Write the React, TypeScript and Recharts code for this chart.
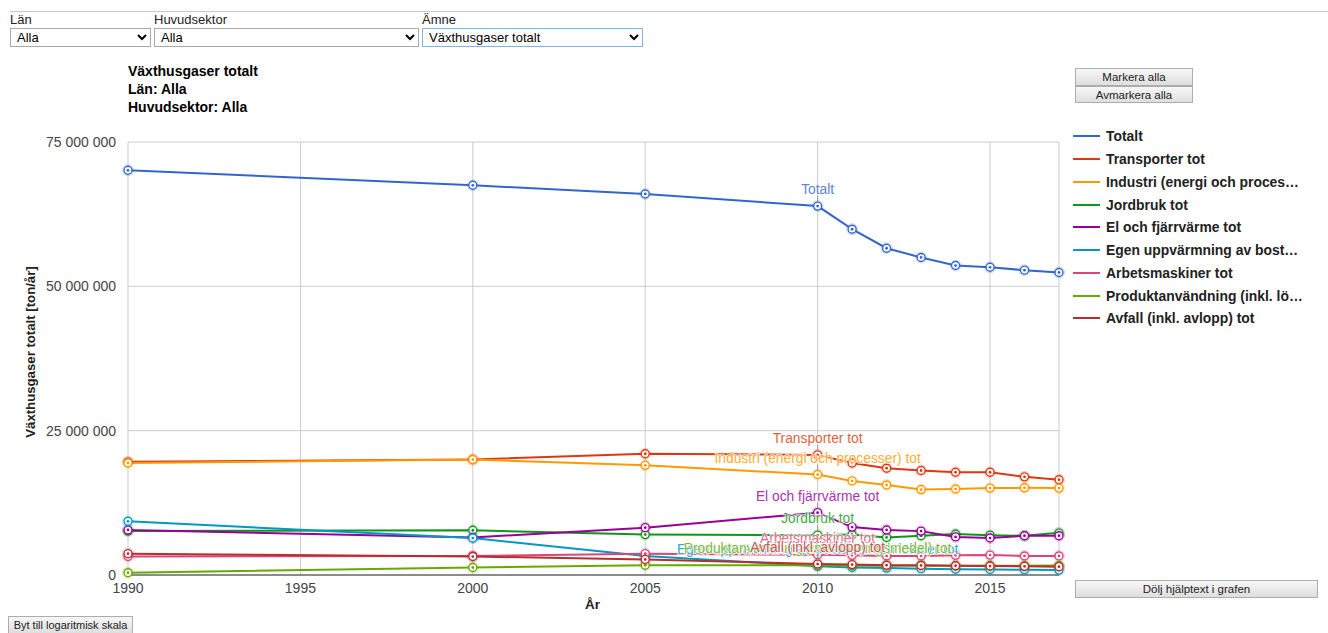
import React from 'react';
import { LineChart, Line, XAxis, YAxis, CartesianGrid } from 'recharts';

// År och värden (miljoner ton/år)
const years = [1990, 2000, 2005, 2010, 2011, 2012, 2013, 2014, 2015, 2016, 2017];
const totalt = [70.1, 67.5, 66.0, 63.9, 59.9, 56.6, 55.0, 53.6, 53.3, 52.8, 52.4];
const transporter = [19.6, 20.0, 21.0, 20.8, 19.4, 18.5, 18.1, 17.8, 17.8, 17.0, 16.5];
const industri = [19.4, 20.0, 19.0, 17.4, 16.3, 15.6, 14.8, 14.9, 15.05, 15.1, 15.05];
const jordbruk = [7.6, 7.75, 7.0, 6.9, 7.0, 6.5, 6.8, 7.1, 6.9, 6.8, 7.3];
const elFjarrvarme = [7.8, 6.5, 8.2, 10.8, 8.3, 7.8, 7.6, 6.6, 6.4, 6.8, 6.8];
const egenUppvarmning = [9.3, 6.4, 3.3, 1.5, 1.3, 1.2, 1.1, 1.0, 0.95, 0.9, 0.85];
const arbetsmaskiner = [3.2, 3.3, 3.7, 3.5, 3.4, 3.3, 3.3, 3.4, 3.45, 3.3, 3.3];
const produktanvandning = [0.4, 1.3, 1.7, 1.7, 1.6, 1.6, 1.7, 1.6, 1.6, 1.6, 1.65];
const avfall = [3.7, 3.2, 2.7, 1.9, 1.8, 1.7, 1.65, 1.6, 1.55, 1.5, 1.45];

const xTicks = [1990, 1995, 2000, 2005, 2010, 2015];
const yTicks = [0, 25, 50, 75];

const series = [
  { key: 'totalt', name: 'Totalt', legend: 'Totalt', values: totalt, color: '#3366cc', label: '#5b84d6' },
  { key: 'transporter', name: 'Transporter tot', legend: 'Transporter tot', values: transporter, color: '#dc3912', label: '#e4613e' },
  { key: 'industri', name: 'Industri (energi och processer) tot', legend: 'Industri (energi och proces…', values: industri, color: '#ff9900', label: '#ffad33' },
  { key: 'jordbruk', name: 'Jordbruk tot', legend: 'Jordbruk tot', values: jordbruk, color: '#109618', label: '#3fab46' },
  { key: 'el', name: 'El och fjärrvärme tot', legend: 'El och fjärrvärme tot', values: elFjarrvarme, color: '#990099', label: '#ad33ad' },
  { key: 'egen', name: 'Egen uppvärmning av bostäder och lokaler tot', legend: 'Egen uppvärmning av bost…', values: egenUppvarmning, color: '#0099c6', label: '#33add1' },
  { key: 'arbets', name: 'Arbetsmaskiner tot', legend: 'Arbetsmaskiner tot', values: arbetsmaskiner, color: '#dd4477', label: '#e46992' },
  { key: 'produkt', name: 'Produktanvändning (inkl. lösningsmedel) tot', legend: 'Produktanvändning (inkl. lö…', values: produktanvandning, color: '#66aa00', label: '#85bb33' },
  { key: 'avfall', name: 'Avfall (inkl. avlopp) tot', legend: 'Avfall (inkl. avlopp) tot', values: avfall, color: '#b82e2e', label: '#c65858' },
];

const data = years.map((year, i) => {
  const row: Record<string, number> = { year };
  series.forEach((s) => {
    row[s.key] = s.values[i];
  });
  return row;
});

const FONT = 'Arial, "Liberation Sans", sans-serif';
const LABEL_INDEX = years.indexOf(2010);

const fmt = (v: number) => String(Math.round(v * 1000000)).replace(/\B(?=(\d{3})+(?!\d))/g, ' ');

const makeDot = (color: string) => (props: any) => {
  const { cx, cy, index } = props;
  if (cx == null || cy == null) return <g key={index} />;
  return (
    <g key={index}>
      <circle cx={cx} cy={cy} r={5.5} fill="none" stroke={color} strokeOpacity={0.25} strokeWidth={1} />
      <circle cx={cx} cy={cy} r={4} fill="#fff" stroke={color} strokeWidth={1.4} />
      <circle cx={cx} cy={cy} r={1.4} fill={color} />
    </g>
  );
};

const makeLabel = (text: string, color: string) => (props: any) => {
  const { x, y, index } = props;
  if (index !== LABEL_INDEX) return <g key={index} />;
  return (
    <g key={index}>
      <line x1={x} x2={x} y1={y - 10} y2={y - 4} stroke="#999" strokeWidth={1} />
      <text
        x={x}
        y={y - 12}
        textAnchor="middle"
        fontFamily={FONT}
        fontSize={13.8}
        fill={color}
        stroke="#fff"
        strokeWidth={2}
        strokeOpacity={0.7}
        paintOrder="stroke"
      >
        {text}
      </text>
    </g>
  );
};

const btn: React.CSSProperties = {
  position: 'absolute',
  boxSizing: 'border-box',
  fontFamily: FONT,
  fontSize: 11.5,
  color: '#222',
  background: 'linear-gradient(#f7f7f7, #dedede)',
  border: '1px solid #adadad',
  borderRadius: 0,
  padding: 0,
  lineHeight: '14px',
  whiteSpace: 'nowrap',
  overflow: 'hidden',
};

const sel: React.CSSProperties = {
  position: 'absolute',
  top: 28,
  height: 19,
  boxSizing: 'border-box',
  fontFamily: FONT,
  fontSize: 13,
  border: '1px solid #a9a9a9',
  borderRadius: 0,
  background: '#fff',
  padding: '0 2px',
};

const lbl: React.CSSProperties = { position: 'absolute', top: 12, fontFamily: FONT, fontSize: 13, color: '#222' };

export default function App() {
  return (
    <div style={{ position: 'fixed', left: 0, top: 0, width: 1328, height: 633, background: '#fff', fontFamily: FONT, overflow: 'hidden' }}>
      <div style={{ position: 'absolute', left: 10, right: 0, top: 11, height: 1, background: '#c8c8c8' }} />
      <div style={{ ...lbl, left: 10 }}>Län</div>
      <div style={{ ...lbl, left: 154 }}>Huvudsektor</div>
      <div style={{ ...lbl, left: 422 }}>Ämne</div>
      <select style={{ ...sel, left: 10, width: 141 }} defaultValue="Alla">
        <option>Alla</option>
      </select>
      <select style={{ ...sel, left: 154, width: 265 }} defaultValue="Alla">
        <option>Alla</option>
      </select>
      <select style={{ ...sel, left: 422, width: 221, border: '1px solid #7eb4ea' }} defaultValue="Växthusgaser totalt">
        <option>Växthusgaser totalt</option>
      </select>

      <div style={{ position: 'absolute', left: 128, top: 62, fontSize: 14, fontWeight: 'bold', lineHeight: '18px', color: '#000' }}>
        <div>Växthusgaser totalt</div>
        <div>Län: Alla</div>
        <div>Huvudsektor: Alla</div>
      </div>

      <button style={{ ...btn, left: 1075, top: 68, width: 118, height: 18 }}>Markera alla</button>
      <button style={{ ...btn, left: 1075, top: 86, width: 118, height: 17 }}>Avmarkera alla</button>

      <div style={{ position: 'absolute', left: 1073, top: 125 }}>
        {series.map((s) => (
          <div key={s.key} style={{ display: 'flex', alignItems: 'center', height: 22.75 }}>
            <div style={{ width: 27, height: 2, background: s.color, marginRight: 6 }} />
            <span style={{ fontSize: 13.9, fontWeight: 'bold', color: '#222', whiteSpace: 'nowrap' }}>{s.legend}</span>
          </div>
        ))}
        <div style={{ height: 5, overflow: 'hidden', marginLeft: 33 }}>
          <span style={{ fontSize: 13.9, fontWeight: 'bold', color: '#e8e8e8', whiteSpace: 'nowrap', position: 'relative', top: 8 }}>
            Utrikes transporter tot
          </span>
        </div>
      </div>

      <div
        style={{
          position: 'absolute',
          left: 30,
          top: 352,
          transform: 'translate(-50%, -50%) rotate(-90deg)',
          fontSize: 13.2,
          fontWeight: 'bold',
          color: '#222',
          whiteSpace: 'nowrap',
        }}
      >
        Växthusgaser totalt [ton/år]
      </div>
      <div style={{ position: 'absolute', left: 585, top: 597, fontSize: 13.5, fontWeight: 'bold', color: '#222' }}>År</div>

      <div style={{ position: 'absolute', left: 0, top: 0 }}>
        <LineChart width={1328} height={633} data={data} margin={{ top: 142, right: 269, bottom: 28, left: 48 }}>
          <CartesianGrid stroke="#cccccc" strokeWidth={1} />
          <XAxis
            dataKey="year"
            type="number"
            domain={[1990, 2017]}
            ticks={xTicks}
            height={30}
            tickSize={0}
            tickMargin={8}
            stroke="#333"
            tick={{ fill: '#444', fontSize: 14, fontFamily: FONT }}
          />
          <YAxis
            type="number"
            domain={[0, 75]}
            ticks={yTicks}
            width={80}
            tickSize={0}
            tickMargin={12}
            axisLine={false}
            tickFormatter={fmt}
            tick={{ fill: '#444', fontSize: 14, fontFamily: FONT }}
          />
          {series.map((s) => (
            <Line
              key={s.key}
              dataKey={s.key}
              type="linear"
              stroke={s.color}
              strokeWidth={2}
              dot={makeDot(s.color)}
              activeDot={false}
              isAnimationActive={false}
            />
          ))}
          {series.map((s) => (
            <Line
              key={s.key + '-label'}
              dataKey={s.key}
              type="linear"
              stroke="none"
              dot={false}
              activeDot={false}
              legendType="none"
              label={makeLabel(s.name, s.label)}
              isAnimationActive={false}
            />
          ))}
        </LineChart>
      </div>

      <button style={{ ...btn, left: 1075, top: 580, width: 243, height: 18 }}>Dölj hjälptext i grafen</button>
      <button style={{ ...btn, left: 8, top: 616, width: 125, height: 18, fontSize: 11 }}>Byt till logaritmisk skala</button>
    </div>
  );
}
